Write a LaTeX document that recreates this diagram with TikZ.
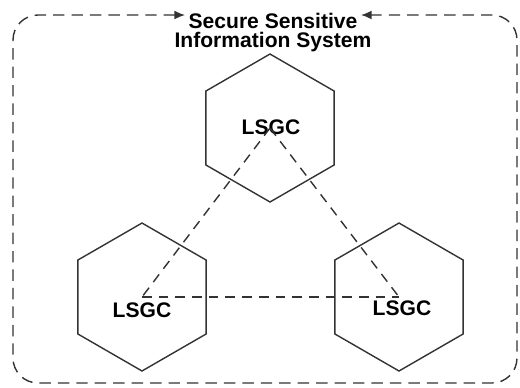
\documentclass[tikz,border=0pt]{standalone}
\usepackage{fontspec}
\setmainfont{Liberation Sans}
\usetikzlibrary{shapes.geometric,arrows.meta}

\begin{document}
\begin{tikzpicture}[x=0.02cm, y=-0.02cm,
    hexcell/.style={draw=black!80, line width=0.8pt, regular polygon, regular polygon sides=6,
      shape border rotate=30, minimum size=2.96cm, inner sep=0pt},
    cellname/.style={font=\fontsize{12}{13}\selectfont\bfseries, inner sep=0pt},
    link/.style={draw=black!80, line width=0.8pt, dash pattern=on 5.5pt off 4pt},
    frame/.style={draw=black!80, line width=0.8pt, dash pattern=on 6.5pt off 4pt,
      rounded corners=0.5cm, {Latex[length=6pt,width=5pt]}-{Latex[length=6pt,width=5pt]}}]
    \useasboundingbox (0,0) rectangle (520,387);

    \node[font=\fontsize{12}{10.8}\selectfont\bfseries, align=center, inner sep=0pt] (title) at (273,33) {Secure Sensitive\\Information System};
    \coordinate (ltip) at (185,15);
    \coordinate (rtip) at (361,15);
    \draw[frame] (ltip) -- (13,15) -- (13,383) -- (517,383) -- (517,15) -- (rtip);

    \node[hexcell] (hexTop) at (270,128) {};
    \node[hexcell] (hexLeft) at (142,297) {};
    \node[hexcell] (hexRight) at (399,297) {};

    \node[cellname] (nameTop) at (271,127) {LSGC};
    \node[cellname] (nameLeft) at (142,310) {LSGC};
    \node[cellname] (nameRight) at (402,308) {LSGC};

    \draw[link] (hexTop.center) -- (hexLeft.center);
    \draw[link] (hexTop.center) -- (hexRight.center);
    \draw[link] (hexLeft.center) -- (hexRight.center);
\end{tikzpicture}
\end{document}
